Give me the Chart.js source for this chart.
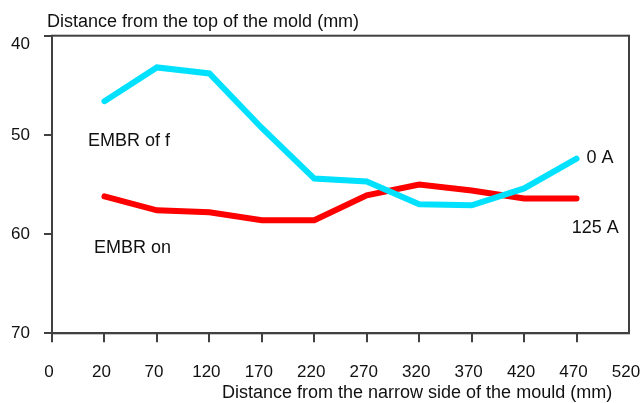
<!DOCTYPE html>
<html>
<head>
<meta charset="utf-8">
<script src="https://cdn.jsdelivr.net/npm/chart.js@4"></script>
<style>
  html, body { margin: 0; padding: 0; background: #fff; }
  #wrap { width: 643px; height: 403px; position: relative; }
</style>
</head>
<body>
<div id="wrap"><canvas id="c" width="643" height="403"></canvas></div>
<script>
// Distance from the narrow side of the mould (mm)
const positions = ['0', '20', '70', '120', '170', '220', '270', '320', '370', '420', '470', '520'];
// Meniscus depth below the top of the mold (mm), EMBR off (0 A)
const embrOff = [null, 46.6, 43.2, 43.8, 49.3, 54.4, 54.7, 57.0, 57.1, 55.4, 52.4, null];
// Meniscus depth below the top of the mold (mm), EMBR on (125 A)
const embrOn = [null, 56.2, 57.6, 57.8, 58.6, 58.6, 56.1, 55.0, 55.6, 56.4, 56.4, null];
// Depth axis ticks (mm)
const depthTicks = [40, 50, 60, 70];

const FONT = '"Liberation Sans", Arial, sans-serif';
const AXIS = '#404040';
const INK = '#111';

// Frame, depth labels, axis titles and in-plot annotations
const decorations = {
  id: 'decorations',
  afterDraw(chart) {
    const { ctx, chartArea: a, scales: { x, y } } = chart;
    ctx.save();
    ctx.strokeStyle = AXIS;
    ctx.lineWidth = 2;
    ctx.strokeRect(a.left, a.top, a.right - a.left, a.bottom - a.top);

    ctx.fillStyle = INK;

    // depth tick labels; the topmost one sits just under its tick
    ctx.font = '17px ' + FONT;
    ctx.textAlign = 'right';
    ctx.textBaseline = 'middle';
    depthTicks.forEach((v, i) => {
      ctx.fillText(String(v), 30, y.getPixelForValue(v) + (i === 0 ? 9 : 0));
    });

    ctx.font = '18px ' + FONT;
    ctx.textAlign = 'left';
    ctx.textBaseline = 'alphabetic';
    ctx.fillText('Distance from the top of the mold (mm)', 47, 27);
    ctx.fillText('Distance from the narrow side of the mould (mm)', 222, 398);

    ctx.fillText('EMBR of f', x.getPixelForValue(0.686), y.getPixelForValue(51.1));
    ctx.fillText('EMBR on', x.getPixelForValue(0.80), y.getPixelForValue(61.9));
    ctx.fillText('0 A', x.getPixelForValue(10.19), y.getPixelForValue(52.85));
    ctx.fillText('125 A', x.getPixelForValue(9.91), y.getPixelForValue(59.9));
    ctx.restore();
  }
};

new Chart(document.getElementById('c'), {
  type: 'line',
  data: {
    labels: positions,
    datasets: [
      { label: '0 A', data: embrOff, borderColor: '#00E1FF', borderWidth: 6,
        borderCapStyle: 'round', borderJoinStyle: 'miter', pointRadius: 0, tension: 0 },
      { label: '125 A', data: embrOn, borderColor: '#FF0000', borderWidth: 6,
        borderCapStyle: 'round', borderJoinStyle: 'miter', pointRadius: 0, tension: 0 }
    ]
  },
  options: {
    responsive: false,
    animation: false,
    layout: { padding: { top: 35.7, right: 14, left: 0, bottom: 0 } },
    plugins: { legend: { display: false }, tooltip: { enabled: false } },
    scales: {
      x: {
        type: 'category',
        offset: false,
        grid: {
          display: true, drawOnChartArea: false, drawTicks: true, tickLength: 9,
          color: (c) => (c.index === positions.length - 1 ? 'rgba(0,0,0,0)' : AXIS), lineWidth: 2
        },
        border: { display: true, color: AXIS, width: 2 },
        ticks: { color: INK, font: { size: 17, family: FONT }, padding: 20, labelOffset: -3, maxRotation: 0, autoSkip: false },
        afterFit(s) { s.height = 403 - 333.3; s.paddingLeft = 0; s.paddingRight = 0; }
      },
      y: {
        type: 'linear',
        reverse: true,
        min: depthTicks[0],
        max: depthTicks[depthTicks.length - 1],
        afterBuildTicks(s) { s.ticks = depthTicks.map(v => ({ value: v })); },
        grid: { display: true, drawOnChartArea: false, drawTicks: true, tickLength: 8, color: AXIS, lineWidth: 2 },
        border: { display: true, color: AXIS, width: 2 },
        ticks: { display: false },
        afterFit(s) { s.width = 52; s.paddingTop = 0; s.paddingBottom = 0; }
      }
    }
  },
  plugins: [decorations]
});
</script>
</body>
</html>
